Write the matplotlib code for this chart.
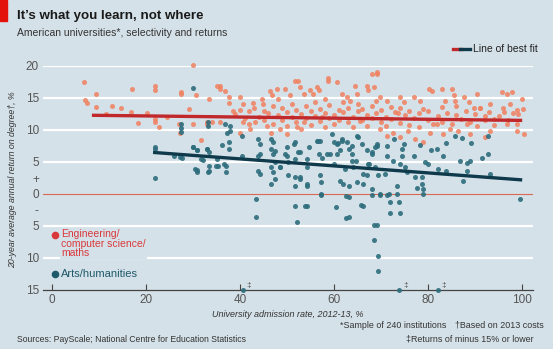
import matplotlib
matplotlib.use("Agg")
import matplotlib.pyplot as plt
import numpy as np

plt.rcParams['font.family'] = ['Liberation Sans', 'DejaVu Sans']

# Engineering / computer science / maths  (admission rate %, return %)
eng_x = [6.9, 9.3, 7.0, 7.4, 9.3, 12.8, 14.6, 17.0, 16.8, 18.2, 20.2, 21.9, 21.9, 22.0, 22.0, 22.8,
         29.9, 27.4, 27.4, 30.6, 33.3, 29.2, 30.1, 31.7, 33.0, 34.0, 35.2,
         35.7, 35.7, 36.8, 37.7, 37.7, 39.9, 40.7, 42.7, 44.6, 44.9, 46.4, 46.9, 47.8, 48.1, 49.6,
         50.6, 51.7, 52.4, 52.8, 53.5, 54.9, 55.6, 56.3, 56.7, 58.1, 58.8, 58.8, 60.6, 61.7, 62.7,
         63.4, 64.4, 64.8, 66.9, 67.3, 69.1,
         68.1, 69.2, 68.4, 69.8, 71.2, 74.0, 74.8, 76.9, 78.3, 80.1, 80.8, 82.9, 83.6, 85.0, 85.4,
         85.8, 87.6, 88.7, 90.4, 89.7, 91.1, 93.2, 92.1, 95.7, 96.8, 97.9, 97.5, 99.9, 100.2, 99.2,
         96.1, 94.1, 96.8, 98.9, 100.3, 93.2, 92.1, 90.4, 88.9, 88.2, 86.4, 84.7, 83.2, 81.8, 80.4,
         79.0, 77.2, 75.8, 74.0, 72.6, 71.2, 69.8,
         27.0, 27.3, 33.0, 35.8, 40.7, 42.1, 43.2, 45.7, 46.6, 48.6, 50.0, 52.1, 53.5, 40.0,
         39, 40, 41, 42, 42, 43, 44, 45, 45, 46, 47, 47, 48, 49, 49, 50, 50, 51, 51, 52, 52, 53, 53,
         54, 54, 55, 55, 56, 56, 57, 57, 58, 58, 59, 59, 60, 60, 61, 61, 62, 62, 63, 63, 64, 64, 65,
         65, 66, 66, 67, 67, 68, 68, 69, 69, 70, 70, 71, 71, 72, 72, 73, 74, 74, 75, 76, 76, 77, 78,
         78, 79, 80, 80, 81, 82, 83, 83, 84, 85, 86, 86, 87, 88, 89, 90, 91, 92, 93, 94, 95, 96, 97,
         98, 99, 99, 11.5, 24.5, 38.5, 57.5, 65.5, 73.5]
eng_y = [17.5, 15.7, 14.7, 14.2, 13.6, 13.8, 13.5, 16.4, 12.8, 11.1, 12.6, 16.9, 16.3, 11.7, 11.2, 10.5,
         20.2, 16.0, 15.6, 15.5, 14.8, 13.3, 10.9, 8.4, 11.0, 11.3, 16.8,
         16.9, 16.4, 16.1, 15.2, 14.2, 15.1, 14.1, 14.2, 14.8, 14.1, 16.1, 15.4, 16.4, 14.8, 16.4,
         15.4, 17.7, 17.7, 16.7, 15.7, 16.2, 15.7, 16.7, 16.2, 14.8, 18.2, 17.7, 17.5, 15.6, 15.1,
         14.6, 16.9, 15.6, 16.9, 16.2, 18.7,
         18.75, 19.0, 16.7, 15.1, 14.6, 15.1, 14.3, 15.1, 14.6, 16.4, 16.1, 16.4, 14.6, 16.4, 15.4,
         14.6, 15.1, 14.3, 15.6, 13.5, 13.5, 14.1, 12.2, 15.9, 15.6, 15.9, 14.1, 14.8, 13.3, 12.5,
         12.8, 11.7, 10.9, 9.9, 9.4, 9.9, 8.9, 10.7, 9.4, 10.9, 9.9, 10.2, 9.4, 10.9, 9.6,
         8.1, 8.6, 9.9, 8.9, 9.6, 9.1, 10.2,
         10.9, 9.6, 11.2, 11.2, 11.2, 10.2, 11.2, 10.7, 9.6, 10.2, 9.4, 10.4, 11.2, 9.6,
         12.5, 13.2, 11.8, 12.9, 10.9, 13.5, 12.1, 11.5, 13.0, 12.6, 11.0, 13.8, 12.3, 11.6, 13.4,
         12.8, 10.6, 12.0, 14.0, 11.3, 13.1, 12.5, 10.2, 13.7, 11.8, 12.9, 10.8, 12.2, 14.3, 11.4,
         13.3, 12.7, 10.4, 11.9, 13.9, 12.4, 10.9, 13.1, 11.6, 12.8, 14.4, 11.2, 13.5, 12.0, 10.5,
         12.9, 14.1, 11.5, 13.3, 12.4, 10.7, 13.8, 11.9, 12.6, 14.5, 11.3, 13.2, 12.1, 10.6, 13.6,
         11.7, 12.8, 11.1, 13.4, 12.3, 10.8, 13.0, 11.9, 12.6, 10.5, 13.3, 11.6, 12.9, 10.9, 12.2,
         13.6, 11.3, 12.7, 11.0, 12.4, 13.8, 11.7, 12.9, 11.2, 12.5, 13.4, 11.6, 12.8, 10.8, 12.2,
         13.5, 11.5, 12.6, 11.0, 13.2, 12.5, 12.1, 13.0, 12.0, 11.4, 12.7]

# Arts / humanities
arts_x = [29.9, 27.4, 27.4, 27.4, 33.2, 33.2, 22.0, 30.1, 30.8, 33.0, 32.1, 30.9, 33.2, 27.6,
          44.3, 44.3, 47.5, 49.6, 51.4, 52.4, 54.6, 34.8, 36.5, 48.6,
          56.3, 57.0, 56.7, 58.4, 59.5, 59.9, 60.6, 61.3, 61.7, 62.7, 63.2, 63.9, 64.6, 65.0, 66.0,
          67.1, 67.4, 68.1, 68.8, 69.2, 62.4,
          72.8, 78.3, 87.1, 92.8, 80.6,
          21.9, 21.9, 25.9, 27.3, 30.1, 30.8, 30.5, 30.8, 32.9, 33.3, 31.6, 33.3, 33.3, 35.0, 35.4,
          36.1, 37.7, 37.7, 37.0, 37.0, 36.8, 37.9, 37.2, 37.9, 40.4, 40.4, 43.9, 43.9, 43.9, 44.3,
          43.5, 43.5, 46.6, 47.0, 46.6, 47.0, 47.4, 46.6, 47.0, 47.4, 46.6, 48.6, 50.0, 50.0, 50.3,
          50.3, 51.7, 51.7, 51.7, 51.7, 52.8, 52.8, 54.2, 54.2, 51.7, 54.2, 52.1,
          54.2, 52.8, 54.2, 53.8, 56.5, 57.4, 56.9, 57.3, 57.3, 59.2, 59.9, 60.6, 60.9, 61.3, 61.6,
          61.8, 63.1, 63.1, 63.1, 63.8, 63.8, 64.1, 64.8, 64.8, 66.2, 66.2, 66.9, 67.3, 68.0, 68.0,
          68.7, 69.1, 69.4, 69.8, 66.2, 69.1, 70.9, 71.2, 71.2, 71.6, 72.6, 73.3, 73.3, 73.8, 74.0,
          74.0, 74.4, 74.4, 74.8, 75.1, 75.5, 76.9, 77.2, 77.6, 78.6, 78.6, 79.0, 79.0, 79.3, 80.0,
          81.8, 82.2, 83.2, 83.9, 83.9, 85.7, 86.7, 87.5, 88.2, 88.2, 88.9, 89.2, 91.4, 92.8, 93.2,
          99.6,
          57.2, 60.4, 62.6, 62.6, 65.7, 68.4, 68.4, 69.3, 69.3, 68.1, 69.7, 71.3, 71.9, 71.9,
          40.6, 73.9, 82.0]
arts_y = [16.5, 10.9, 10.3, 9.7, 11.2, 10.7, 7.1, 7.4, 6.8, 7.1, 5.3, 3.8, 3.5, 5.6,
          7.8, 6.3, 6.7, 6.3, 7.8, 6.5, 7.3, 4.4, 4.7, 4.2,
          8.3, 8.3, 6.3, 6.3, 9.4, 8.1, 7.8, 6.8, 8.6, 8.1, 7.1, 6.3, 5.2, 8.9, 7.8,
          6.8, 4.7, 6.3, 7.3, 7.8, 3.9,
          8.6, 7.6, 8.8, 9.1, 6.8,
          7.3, 2.5, 6.0, 5.8, 7.4, 6.8, 3.9, 3.4, 7.0, 6.5, 5.5, 4.4, 3.6, 5.5, 4.4,
          7.6, 8.1, 7.0, 4.4, 3.5, 11.0, 10.7, 9.6, 9.9, 6.0, 9.1, 8.6, 6.0, 3.6, 3.1,
          -0.8, -3.6, 8.6, 8.1, 7.0, 6.2, 5.0, 4.2, 3.4, 2.4, 1.6, 4.2, 7.3, 6.0, 5.0,
          2.9, 8.1, 5.5, 2.6, 1.3, 6.5, 2.4, 4.2, 1.3, -1.8, -1.8, -4.4,
          5.5, 2.6, 1.6, -1.8, 8.3, 5.7, 3.0, 1.9, 0.0, 6.2, 4.7, 6.2, 8.0, 2.1, 8.3,
          1.6, 1.3, -0.4, -3.6, 7.5, 5.2, 4.2, 1.9, 9.1, 1.6, 3.2, 2.9, 4.7, 6.5, 0.8,
          4.2, 7.5, 2.9, 0.0, -1.8, -4.9, 3.2, 7.5, 6.0, 0.0, 5.2, 1.3, 0.0, -1.3, -2.9,
          4.7, 7.0, 6.0, 7.8, 4.2, 3.4, 6.0, 2.6, 1.0, 2.6, 1.6, 0.8, 0.0, 5.0, 4.7,
          7.0, 3.9, 6.0, 3.6, 8.0, 9.1, 5.2, 2.1, 4.9, 3.6, 5.2, 8.0, 5.7, 6.2, 3.2,
          -0.8,
          -0.1, -2.1, -0.3, -3.8, -1.7, -4.8, -7.2, -9.7, -12.0, -0.1, -0.1, -0.1, -1.3, -3.0,
          -15, -15, -15]
offscale_x = [40.6, 73.9, 82.0]

# lines of best fit (end points)
eng_fit_x = [8.5, 100]
eng_fit_y = [12.3, 11.5]
arts_fit_x = [21.5, 100]
arts_fit_y = [6.5, 2.2]

xticks = [0, 20, 40, 60, 80, 100]
yticks = [20, 15, 10, 5, 2.5, 0, -2.5, -5, -10, -15]
ylabels = ['20', '15', '10', '5', '+', '0', '-', '5', '10', '15']

bg = '#d5e1e8'
orange = '#f0805f'
teal = '#2d6d7d'
red_line = '#c0282b'
dark_line = '#0e3a4c'
grey = '#555555'

fig = plt.figure(figsize=(5.53, 3.49), dpi=100, facecolor=bg)
ax = fig.add_axes([43/553, 1 - 290/349, 490/553, 224/349])
ax.set_facecolor(bg)
ax.set_xlim(-1.9, 102.3)
ax.set_ylim(-15, 20)

for g in [20, 15, 10, 5, -5, -10]:
    ax.axhline(g, color='white', lw=1.6, zorder=0)
ax.axhline(0, color='#d66a55', lw=0.8, zorder=0)

ax.scatter(eng_x, eng_y, s=13, color=orange, alpha=0.85, lw=0, zorder=2, clip_on=False)
ax.scatter(arts_x, arts_y, s=13, color=teal, alpha=0.9, lw=0, zorder=3, clip_on=False)
ax.plot(eng_fit_x, eng_fit_y, color=red_line, lw=2.4, zorder=4, solid_capstyle='butt')
ax.plot(arts_fit_x, arts_fit_y, color=dark_line, lw=2.4, zorder=4, solid_capstyle='butt')

for xo in offscale_x:
    ax.text(xo + 1.3, -14.3, '‡', fontsize=6, color=grey, ha='center', va='center')

for s in ['left', 'right', 'top']:
    ax.spines[s].set_visible(False)
ax.spines['bottom'].set_color('#444444')
ax.spines['bottom'].set_linewidth(0.9)

ax.set_xticks(xticks)
ax.set_xticklabels([str(t) for t in xticks])
ax.set_yticks(yticks)
ax.set_yticklabels(ylabels)
ax.tick_params(axis='x', direction='in', length=4, width=0.8, color='#444444',
               labelsize=8.5, labelcolor=grey, pad=3)
ax.tick_params(axis='y', length=0, labelsize=8.5, labelcolor=grey, pad=3)

ax.set_xlabel('University admission rate, 2012-13, %', fontsize=6.5, style='italic',
              color='#333333', labelpad=3)
fig.text(13/553, 1 - 180/349, '20-year average annual return on degree\u2020, %', rotation=90,
         fontsize=6.3, style='italic', color='#333333', ha='center', va='center')

# category labels
eng_col = '#d9383a'
arts_col = '#1f5a6b'
ax.scatter([0.6], [-6.4], s=20, color=eng_col, zorder=5)
ax.text(2.0, -5.5, 'Engineering/\ncomputer science/\nmaths', fontsize=7.5, color=eng_col,
        va='top', ha='left', linespacing=0.95, zorder=5,
        bbox=dict(boxstyle='square,pad=0.1', fc=bg, ec='none'))
ax.scatter([0.6], [-12.5], s=20, color=arts_col, zorder=5)
ax.text(2.0, -12.5, 'Arts/humanities', fontsize=8, color=arts_col, va='center', ha='left',
        zorder=5, bbox=dict(boxstyle='square,pad=0.1', fc=bg, ec='none'))

# title block
fig.patches.append(plt.Rectangle((0, 1 - 21/349), 7/553, 21/349, transform=fig.transFigure,
                                 color='#e3120b'))
fig.text(17/553, 1 - 16/349, 'It\u2019s what you learn, not where', fontsize=9.6, weight='bold',
         color='#1a1a1a', va='center')
fig.text(17/553, 1 - 33/349, 'American universities*, selectivity and returns', fontsize=7.5,
         color='#333333', va='center')

# legend
fig.lines.append(plt.Line2D([453/553, 461/553], [1 - 49/349] * 2, transform=fig.transFigure,
                            color=red_line, lw=2.4))
fig.lines.append(plt.Line2D([460/553, 470/553], [1 - 49/349] * 2, transform=fig.transFigure,
                            color=dark_line, lw=2.4))
fig.text(473/553, 1 - 49/349, 'Line of best fit', fontsize=7.5, color='#222222', va='center')

# footnotes
fig.text(17/553, 1 - 339/349, 'Sources: PayScale; National Centre for Education Statistics',
         fontsize=6.2, color='#333333', va='center')
fig.text(340/553, 1 - 325/349, '*Sample of 240 institutions', fontsize=6.4, color='#333333',
         va='center')
fig.text(455/553, 1 - 325/349, '\u2020Based on 2013 costs', fontsize=6.4, color='#333333',
         va='center')
fig.text(406/553, 1 - 339/349, '\u2021Returns of minus 15% or lower', fontsize=6.4,
         color='#333333', va='center')

fig.savefig('out.png', dpi=100, facecolor=bg)
